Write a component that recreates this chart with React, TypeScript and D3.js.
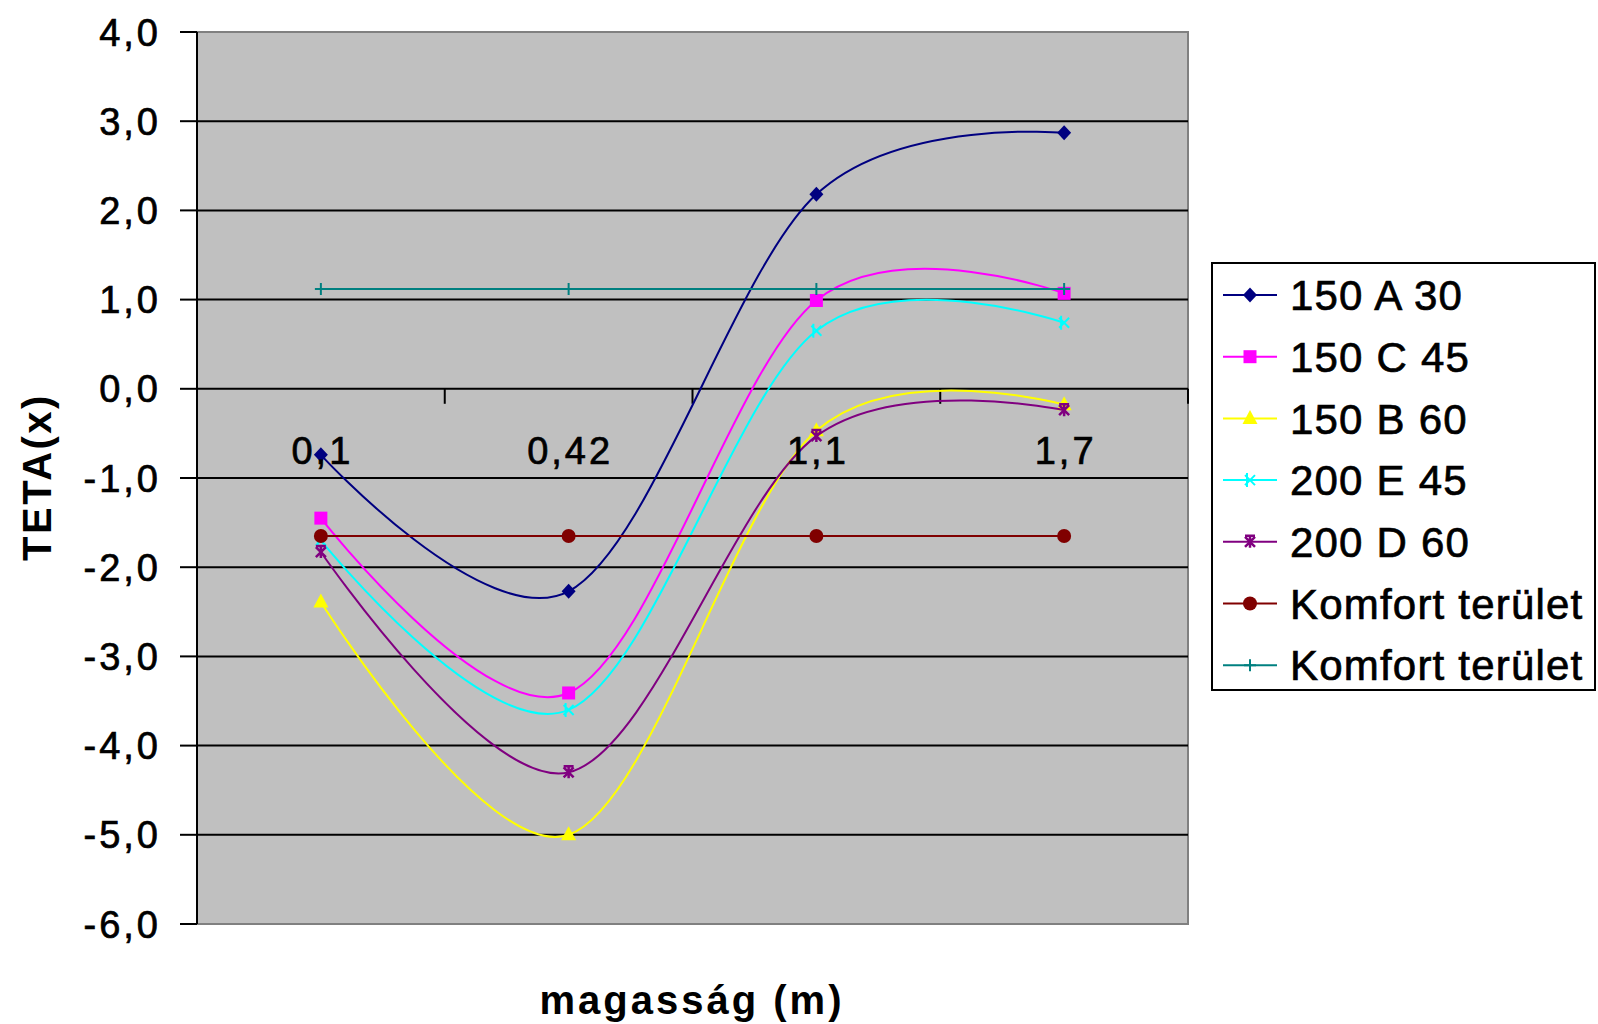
import React from "react";
import * as d3 from "d3";

const categories = ["0,1", "0,42", "1,1", "1,7"];
const yTickValues = [4, 3, 2, 1, 0, -1, -2, -3, -4, -5, -6];

const s150A30 = [-0.74, -2.27, 2.18, 2.87];
const s150C45 = [-1.45, -3.41, 0.99, 1.07];
const s150B60 = [-2.39, -5.0, -0.47, -0.18];
const s200E45 = [-1.7, -3.6, 0.65, 0.74];
const s200D60 = [-1.83, -4.3, -0.53, -0.24];
const komfortLow = [-1.65, -1.65, -1.65, -1.65];
const komfortHigh = [1.12, 1.12, 1.12, 1.12];

const seriesNames = [
  "150 A 30",
  "150 C 45",
  "150 B 60",
  "200 E 45",
  "200 D 60",
  "Komfort terület",
  "Komfort terület",
];
const seriesValues = [s150A30, s150C45, s150B60, s200E45, s200D60, komfortLow, komfortHigh];
const seriesColors = ["#000080", "#FF00FF", "#FFFF00", "#00FFFF", "#800080", "#800000", "#008080"];
const seriesMarkers = ["diamond", "square", "triangle", "xbar", "star", "circle", "plus"];
const seriesSmooth = [true, true, true, true, true, false, false];

const W = 1598;
const H = 1024;
const M = { left: 197, right: 1188, top: 32, bottom: 924 };
const FONT = "'Liberation Sans', Arial, Helvetica, sans-serif";

function Marker({ type, x, y, color }: { type: string; x: number; y: number; color: string }) {
  switch (type) {
    case "diamond":
      return <path d={`M${x},${y - 7.5}L${x + 7},${y}L${x},${y + 7.5}L${x - 7},${y}Z`} fill={color} />;
    case "square":
      return <rect x={x - 6.5} y={y - 6.5} width={13} height={13} fill={color} />;
    case "triangle":
      return <path d={`M${x},${y - 8.5}L${x + 7.5},${y + 5.5}L${x - 7.5},${y + 5.5}Z`} fill={color} />;
    case "xbar":
      return (
        <g stroke={color} strokeWidth={2} fill="none">
          <path d={`M${x - 5},${y - 5}L${x + 5},${y + 5}M${x - 5},${y + 5}L${x + 5},${y - 5}M${x - 3},${y - 7}L${x - 3},${y + 7}`} />
        </g>
      );
    case "star":
      return (
        <g stroke={color} strokeWidth={2.5} fill="none">
          <path d={`M${x - 5},${y - 5}L${x + 5},${y + 5}M${x - 5},${y + 5}L${x + 5},${y - 5}M${x - 5},${y - 6}L${x + 5},${y - 6}M${x},${y - 6}L${x},${y + 6}`} />
        </g>
      );
    case "circle":
      return <circle cx={x} cy={y} r={7} fill={color} />;
    case "plus":
      return (
        <g stroke={color} strokeWidth={2} fill="none">
          <path d={`M${x - 6},${y}L${x + 6},${y}M${x},${y - 6}L${x},${y + 6}`} />
        </g>
      );
    default:
      return null;
  }
}

export default function App() {
  const x = d3.scaleBand<string>().domain(categories).range([M.left, M.right]).padding(0);
  const y = d3.scaleLinear().domain([-6, 4]).range([M.bottom, M.top]);
  const cx = (c: string) => (x(c) as number) + x.bandwidth() / 2;
  const fmt = (v: number) => d3.format(".1f")(v).replace(".", ",").replace("−", "-");

  const smoothLine = d3
    .line<number>()
    .x((_, i) => cx(categories[i]))
    .y((v) => y(v))
    .curve(d3.curveCardinal.tension(0));
  const straightLine = d3
    .line<number>()
    .x((_, i) => cx(categories[i]))
    .y((v) => y(v));

  const boundaries = categories.map((c) => (x(c) as number) + x.bandwidth());

  const legendX = 1212;
  const legendY = 263;
  const legendW = 383;
  const legendH = 427;
  const legendItemY = (i: number) => 295 + i * 61.7;

  const textStroke = { stroke: "#000", strokeWidth: 0.7 };

  return (
    <div style={{ position: "absolute", left: 0, top: 0 }}>
      <svg width={W} height={H} style={{ display: "block", background: "#fff" }} fontFamily={FONT}>
        {/* plot area */}
        <rect x={M.left} y={M.top} width={M.right - M.left} height={M.bottom - M.top} fill="#C0C0C0" stroke="#808080" strokeWidth={2} />
        {/* gridlines */}
        {yTickValues
          .filter((v) => v !== 4 && v !== -6)
          .map((v) => (
            <line key={"g" + v} x1={M.left} x2={M.right} y1={y(v)} y2={y(v)} stroke="#000" strokeWidth={2} />
          ))}
        {/* y axis */}
        <line x1={M.left} x2={M.left} y1={M.top} y2={M.bottom} stroke="#000" strokeWidth={2} />
        {yTickValues.map((v) => (
          <g key={"t" + v}>
            <line x1={180} x2={M.left} y1={y(v)} y2={y(v)} stroke="#000" strokeWidth={2} />
            <text x={161} y={y(v)} dy="0.36em" textAnchor="end" fontSize={38} letterSpacing={3} fill="#000" {...textStroke}>
              {fmt(v)}
            </text>
          </g>
        ))}
        {/* x axis ticks at zero line */}
        {boundaries.map((b, i) => (
          <line key={"xt" + i} x1={b} x2={b} y1={y(0)} y2={y(0) + 15} stroke="#000" strokeWidth={2} />
        ))}

        {/* series */}
        {seriesValues.map((vals, si) => (
          <g key={"s" + si}>
            <path
              d={(seriesSmooth[si] ? smoothLine : straightLine)(vals) || ""}
              fill="none"
              stroke={seriesColors[si]}
              strokeWidth={2}
            />
            {vals.map((v, i) => (
              <Marker key={i} type={seriesMarkers[si]} x={cx(categories[i])} y={y(v)} color={seriesColors[si]} />
            ))}
          </g>
        ))}

        {/* x tick labels */}
        {categories.map((c) => (
          <text key={"xl" + c} x={cx(c) + 1.5} y={450} dy="0.36em" textAnchor="middle" fontSize={38} letterSpacing={3} fill="#000" {...textStroke}>
            {c}
          </text>
        ))}

        {/* axis titles */}
        <text
          transform={`translate(37,477) rotate(-90)`}
          textAnchor="middle"
          dy="0.36em"
          fontSize={40}
          fontWeight="bold"
          letterSpacing={2.5}
          fill="#000"
        >
          TETA(x)
        </text>
        <text x={692} y={1000} dy="0.36em" textAnchor="middle" fontSize={40} fontWeight="bold" letterSpacing={3} fill="#000">
          magasság (m)
        </text>

        {/* legend */}
        <rect x={legendX} y={legendY} width={legendW} height={legendH} fill="#fff" stroke="#000" strokeWidth={2} />
        {seriesNames.map((n, i) => (
          <g key={"l" + i}>
            <line x1={1223} x2={1277} y1={legendItemY(i)} y2={legendItemY(i)} stroke={seriesColors[i]} strokeWidth={2} />
            <Marker type={seriesMarkers[i]} x={1250} y={legendItemY(i)} color={seriesColors[i]} />
            <text x={1290} y={legendItemY(i)} dy="0.36em" fontSize={42} letterSpacing={1.2} fill="#000" {...textStroke}>
              {n}
            </text>
          </g>
        ))}
      </svg>
    </div>
  );
}
